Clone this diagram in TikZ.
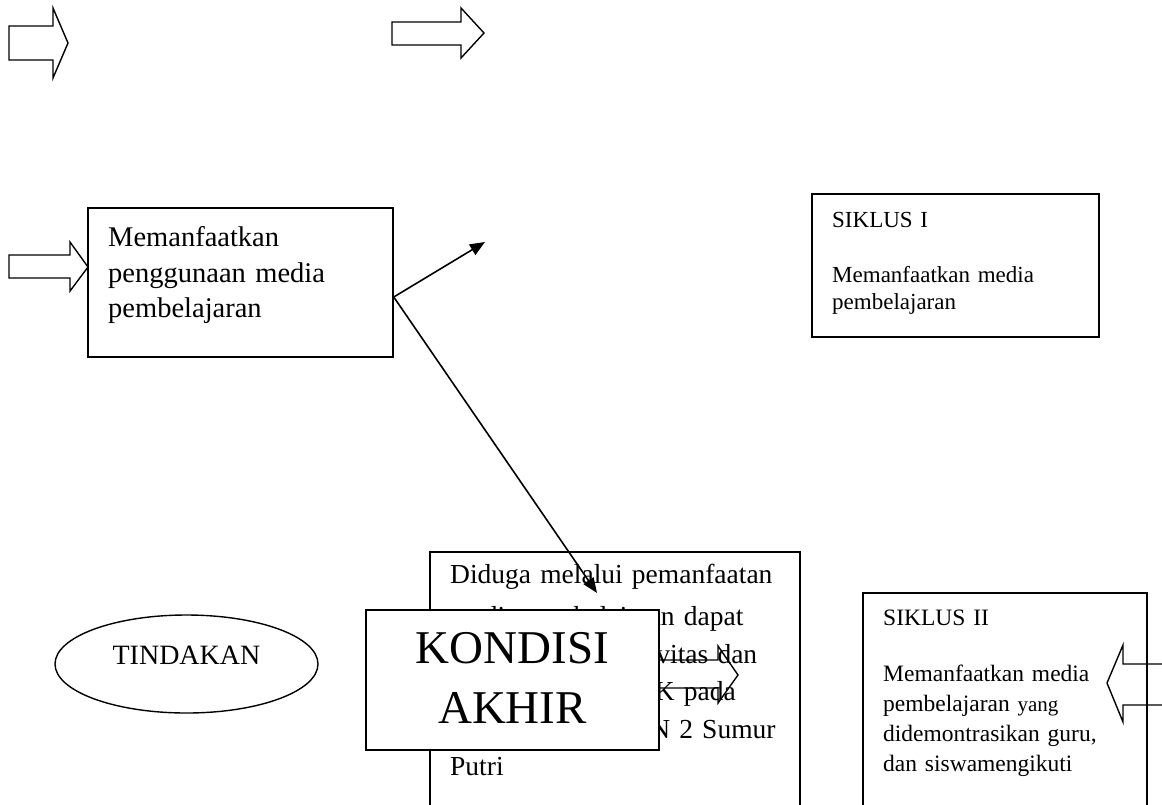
\documentclass[tikz,border=0pt]{standalone}
\usepackage{fontspec}
\setmainfont{Liberation Serif}
\usetikzlibrary{arrows.meta,shapes.geometric}
\begin{document}
\begin{tikzpicture}[x=1pt,y=-1pt,
  box/.style={draw, line width=1.5pt, fill=white, rectangle, inner sep=0pt},
  txt/.style={inner sep=0pt, anchor=base west, align=left},
  blockarrow/.style={draw, line width=1.4pt, line join=miter},
  conn/.style={line width=1.6pt, -{Triangle[length=15pt,width=12pt]}}
]
\useasboundingbox (0,0) rectangle (1162,804);

% block arrows at the top
\draw[blockarrow] (9,26) -- (53,26) -- (53,8) -- (68,43) -- (53,78) -- (53,60) -- (9,60) -- cycle;
\draw[blockarrow] (392,22) -- (461,22) -- (461,8) -- (484,33) -- (461,58) -- (461,45) -- (392,45) -- cycle;
\draw[blockarrow] (9,255) -- (70,255) -- (70,242) -- (88,267) -- (70,291) -- (70,278) -- (9,278) -- cycle;

% Memanfaatkan box
\node[box, minimum width=305pt, minimum height=149pt] (mbox) at (240.5,282.5) {};
\node[txt, text width=280pt, font=\fontsize{28.5}{35.5}\selectfont] (mtext) at (108,246.7)
  {Memanfaatkan\\penggunaan media\\pembelajaran};

% SIKLUS I
\node[box, minimum width=287pt, minimum height=143pt] (s1box) at (955.5,265.5) {};
\node[txt, text width=260pt, font=\fontsize{23}{27.5}\selectfont] (s1text) at (832,227)
  {SIKLUS I\\[27.5pt]Memanfaatkan media\\pembelajaran};

% TINDAKAN
\node[draw, ellipse, line width=1.4pt, minimum width=263pt, minimum height=98pt, inner sep=0pt] (tind) at (186.5,664) {};
\node[inner sep=0pt, font=\fontsize{28}{33}\selectfont] (tindtext) at (186.5,655.5) {TINDAKAN};

% Diduga box (open at the bottom)
\node[box, minimum width=370pt, minimum height=280pt] (dbox) at (615,692) {};
\node[txt, text width=345pt, font=\fontsize{27.5}{37.5}\selectfont] (dtext) at (450,583)
  {Diduga melalui pemanfaatan\\[5pt]media pembelajaran dapat\\meningkatkan aktivitas dan\\hasil belajar\hspace{0.5em} PJOK pada\\siswa kelas V SDN 2 Sumur\\Putri};

% block arrow behind KONDISI box
\draw[blockarrow] (600,660) -- (718,660) -- (718,646) -- (738,675) -- (718,703) -- (718,688) -- (600,688) -- cycle;

% KONDISI AKHIR
\node[box, minimum width=293pt, minimum height=140pt] (kbox) at (512.5,680) {};
\node[inner sep=0pt, anchor=base, align=center, text width=293pt, font=\fontsize{47}{60}\selectfont] (ktext) at (512.5,663)
  {KONDISI\\AKHIR};

% SIKLUS II (open at the bottom)
\node[box, minimum width=284pt, minimum height=240pt] (s2box) at (1005,713) {};
\node[txt, text width=270pt, font=\fontsize{23.5}{30}\selectfont] (s2text) at (883,625)
  {SIKLUS II\\[26.7pt]Memanfaatkan media\\pembelajaran {\fontsize{21}{30}\selectfont yang}\\didemontrasikan guru,\\dan siswamengikuti};

% block arrow from the right
\draw[blockarrow] (1170,664) -- (1123,664) -- (1123,645) -- (1107,683) -- (1123,722) -- (1123,705) -- (1170,705);

% connectors
\coordinate (t1) at (485,242);
\coordinate (t2) at (597,593);
\draw[conn] ([yshift=-14.5pt]mbox.east) -- (t1);
\draw[conn] ([yshift=-14.5pt]mbox.east) -- (t2);
\end{tikzpicture}
\end{document}
